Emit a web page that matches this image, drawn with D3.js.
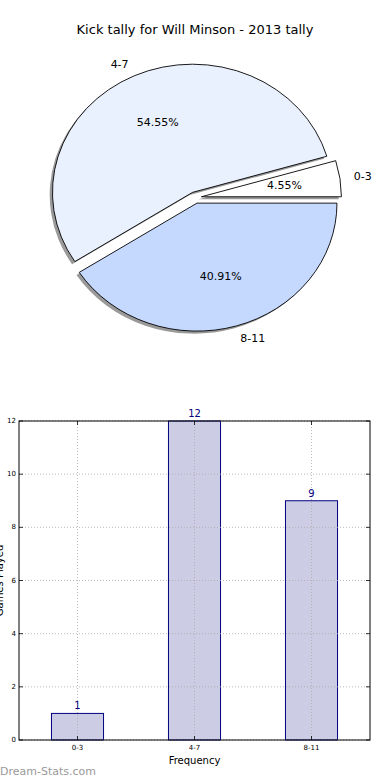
<!DOCTYPE html>
<html>
<head>
<meta charset="utf-8">
<script src="https://cdn.jsdelivr.net/npm/d3@7"></script>
<style>
  html, body { margin: 0; padding: 0; background: #fff; }
  svg { display: block; font-family: "DejaVu Sans", sans-serif; }
</style>
</head>
<body>
<div id="chart"></div>
<script>
// chart data
const title = "Kick tally for Will Minson - 2013 tally";
const categories = ["0-3", "4-7", "8-11"];
const counts = [1, 12, 9];
const pieColors = ["#ffffff", "#eaf1fe", "#c5d9ff"];
const yTicks = [0, 2, 4, 6, 8, 10, 12];
const xLabel = "Frequency";
const yLabel = "Games Played";

const width = 390, height = 780;

const svg = d3.select("#chart")
  .append("svg")
  .attr("width", width)
  .attr("height", height);

// title
svg.append("text")
  .attr("x", 195)
  .attr("y", 34)
  .attr("text-anchor", "middle")
  .style("font-size", "13px")
  .text(title);

// ---- pie (matplotlib style: ccw from 3 o'clock, exploded, shadow) ----
const cx = 195.2, cy = 197.6, rx = 140, ry = 128, explode = 0.045;
const total = d3.sum(counts);

const pie = d3.pie().sort(null)
  .startAngle(Math.PI / 2)
  .endAngle(Math.PI / 2 - 2 * Math.PI);
const arcs = pie(counts);
const arc = d3.arc().innerRadius(0).outerRadius(1);

// center offset of each wedge
arcs.forEach(d => {
  const a = (d.startAngle + d.endAngle) / 2;
  d.ux = Math.sin(a);
  d.uy = -Math.cos(a);
  d.ox = cx + explode * rx * d.ux;
  d.oy = cy + explode * ry * d.uy;
});

const pieG = svg.append("g");

// shadows first
pieG.selectAll("path.shadow")
  .data(arcs)
  .enter()
  .append("path")
  .attr("class", "shadow")
  .attr("transform", d => "translate(" + (d.ox - 0.02 * rx) + "," + (d.oy + 0.02 * ry) + ") scale(" + rx + "," + ry + ")")
  .attr("d", arc)
  .attr("fill", "#9a9a9a")
  .attr("stroke", "none");

pieG.selectAll("path.wedge")
  .data(arcs)
  .enter()
  .append("path")
  .attr("class", "wedge")
  .attr("transform", d => "translate(" + d.ox + "," + d.oy + ") scale(" + rx + "," + ry + ")")
  .attr("d", arc)
  .attr("fill", (d, i) => pieColors[i])
  .attr("stroke", "#000")
  .attr("stroke-width", 0.9)
  .attr("vector-effect", "non-scaling-stroke");

// percentage labels
pieG.selectAll("text.pct")
  .data(arcs)
  .enter()
  .append("text")
  .attr("class", "pct")
  .attr("x", d => d.ox + 0.6 * rx * d.ux)
  .attr("y", d => d.oy + 0.6 * ry * d.uy)
  .attr("text-anchor", "middle")
  .attr("dominant-baseline", "central")
  .style("font-size", "11px")
  .text(d => (d.value / total * 100).toFixed(2) + "%");

// category labels
pieG.selectAll("text.lab")
  .data(arcs)
  .enter()
  .append("text")
  .attr("class", "lab")
  .attr("x", d => d.ox + 1.1 * rx * d.ux)
  .attr("y", d => d.oy + 1.1 * ry * d.uy)
  .attr("text-anchor", d => d.ux > 0 ? "start" : "end")
  .attr("dominant-baseline", "central")
  .style("font-size", "11px")
  .text((d, i) => categories[i]);

// ---- bar chart ----
const plotLeft = 19, plotRight = 370, plotTop = 421, plotBottom = 740;
const x = d3.scaleLinear().domain([-0.5, categories.length - 0.5]).range([plotLeft, plotRight]);
const y = d3.scaleLinear().domain([0, 12]).range([plotBottom, plotTop]);
const barW = 0.445;

const barG = svg.append("g");

barG.selectAll("rect")
  .data(counts)
  .enter()
  .append("rect")
  .attr("x", (d, i) => x(i - barW / 2))
  .attr("y", d => y(d))
  .attr("width", x(barW) - x(0))
  .attr("height", d => y(0) - y(d))
  .attr("fill", "#ccccE5")
  .attr("stroke", "#000080")
  .attr("stroke-width", 1);

// grid (drawn over bars)
const gridG = barG.append("g")
  .attr("stroke", "#aaaaaa")
  .attr("stroke-width", 0.8)
  .attr("stroke-dasharray", "1,2");

gridG.selectAll("line.h")
  .data(yTicks)
  .enter()
  .append("line")
  .attr("x1", plotLeft).attr("x2", plotRight)
  .attr("y1", d => y(d)).attr("y2", d => y(d));

gridG.selectAll("line.v")
  .data(categories)
  .enter()
  .append("line")
  .attr("x1", (d, i) => x(i)).attr("x2", (d, i) => x(i))
  .attr("y1", plotTop).attr("y2", plotBottom);

// frame
barG.append("rect")
  .attr("x", plotLeft)
  .attr("y", plotTop)
  .attr("width", plotRight - plotLeft)
  .attr("height", plotBottom - plotTop)
  .attr("fill", "none")
  .attr("stroke", "#000")
  .attr("stroke-width", 1);

// inward ticks
const tickG = barG.append("g").attr("stroke", "#000").attr("stroke-width", 0.8);
yTicks.forEach(t => {
  tickG.append("line").attr("x1", plotLeft).attr("x2", plotLeft + 4).attr("y1", y(t)).attr("y2", y(t));
  tickG.append("line").attr("x1", plotRight).attr("x2", plotRight - 4).attr("y1", y(t)).attr("y2", y(t));
});
categories.forEach((c, i) => {
  tickG.append("line").attr("x1", x(i)).attr("x2", x(i)).attr("y1", plotBottom).attr("y2", plotBottom - 4);
  tickG.append("line").attr("x1", x(i)).attr("x2", x(i)).attr("y1", plotTop).attr("y2", plotTop + 4);
});

// tick labels
barG.selectAll("text.ytick")
  .data(yTicks)
  .enter()
  .append("text")
  .attr("class", "ytick")
  .attr("x", plotLeft - 3)
  .attr("y", d => y(d))
  .attr("text-anchor", "end")
  .attr("dominant-baseline", "central")
  .style("font-size", "7px")
  .text(d => d);

barG.selectAll("text.xtick")
  .data(categories)
  .enter()
  .append("text")
  .attr("class", "xtick")
  .attr("x", (d, i) => x(i))
  .attr("y", plotBottom + 10)
  .attr("text-anchor", "middle")
  .style("font-size", "7px")
  .text(d => d);

// value labels
barG.selectAll("text.val")
  .data(counts)
  .enter()
  .append("text")
  .attr("class", "val")
  .attr("x", (d, i) => x(i))
  .attr("y", d => y(d) - 4)
  .attr("text-anchor", "middle")
  .attr("fill", "#000080")
  .style("font-size", "10px")
  .text(d => d);

// axis labels
svg.append("text")
  .attr("x", x(1))
  .attr("y", 764)
  .attr("text-anchor", "middle")
  .style("font-size", "10px")
  .text(xLabel);

// y label sits mostly past the left edge, as in the original
svg.append("text")
  .attr("transform", "translate(3," + ((plotTop + plotBottom) / 2) + ") rotate(-90)")
  .attr("text-anchor", "middle")
  .style("font-size", "10px")
  .text(yLabel);

// watermark
svg.append("text")
  .attr("x", 0)
  .attr("y", 775)
  .attr("fill", "#9a9a9a")
  .style("font-size", "11px")
  .text("Dream-Stats.com");
</script>
</body>
</html>
